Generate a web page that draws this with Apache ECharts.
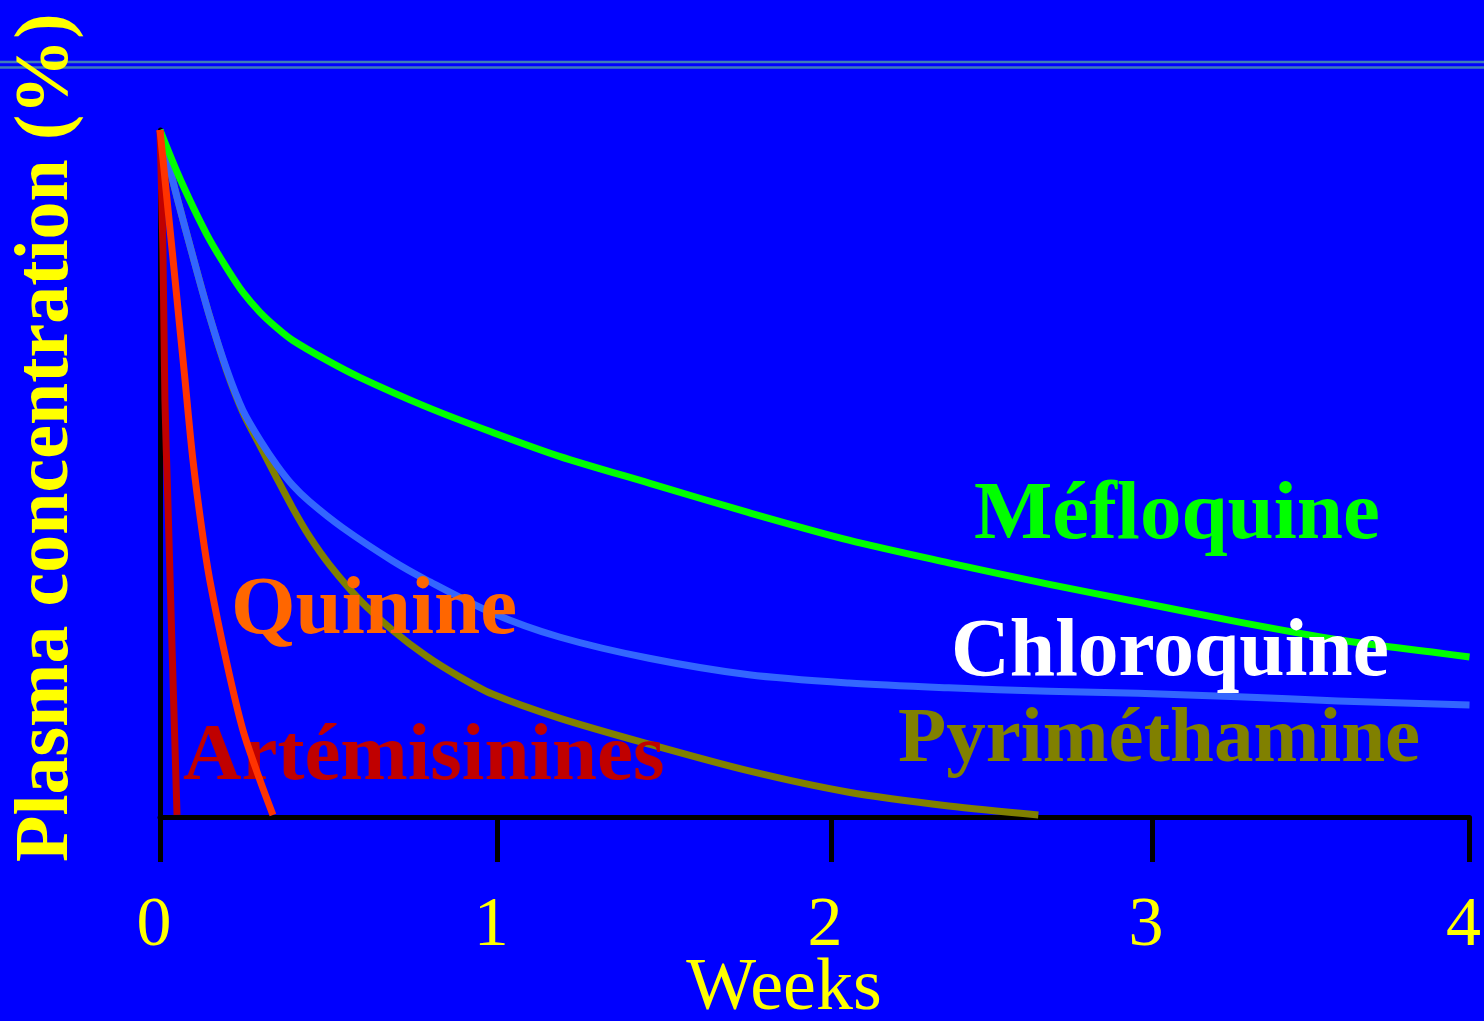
<!DOCTYPE html>
<html>
<head>
<meta charset="utf-8">
<title>Plasma concentration</title>
<script src="https://cdn.jsdelivr.net/npm/echarts@6/dist/echarts.min.js"></script>
<style>
  html, body { margin: 0; padding: 0; background: #0000ff; }
  #chart { width: 1484px; height: 1021px; }
</style>
</head>
<body>
<div id="chart"></div>
<script>
// Week axis: tick positions and their labels
const weekTicks = [0, 1.03, 2.05, 3.03, 4];
const weekLabels = ['0', '1', '2', '3', '4'];

// Plasma concentration (% of peak) against time in weeks
const mefloquine = [
  [0, 100], [0.052, 93.9], [0.101, 88.8], [0.152, 84.0], [0.204, 79.9], [0.253, 76.4],
  [0.305, 73.5], [0.357, 71.2], [0.405, 69.4], [0.509, 66.5], [0.61, 64.0], [0.814, 59.7],
  [1.015, 56.0], [1.22, 52.5], [1.494, 48.6], [1.799, 44.3], [2.104, 40.3], [2.409, 37.0],
  [2.713, 33.9], [2.988, 31.3], [3.293, 28.4], [3.598, 25.8], [3.902, 23.9], [4.0, 23.3]
];
const chloroquine = [
  [0, 100], [0.052, 90.2], [0.101, 81.5], [0.152, 72.8], [0.204, 65.1], [0.253, 59.2],
  [0.305, 54.9], [0.357, 51.2], [0.405, 48.3], [0.457, 45.9], [0.558, 42.1], [0.71, 37.3],
  [0.814, 34.5], [1.015, 29.7], [1.22, 26.2], [1.494, 23.1], [1.799, 20.7], [2.104, 19.5],
  [2.409, 18.8], [2.713, 18.3], [2.988, 18.0], [3.293, 17.5], [3.598, 16.9], [4.0, 16.3]
];
const pyrimethamine = [
  [0, 100], [0.052, 90.2], [0.101, 81.5], [0.152, 72.8], [0.204, 64.9], [0.253, 58.9],
  [0.305, 54.1], [0.357, 49.3], [0.405, 45.0], [0.457, 40.8], [0.518, 36.7], [0.61, 31.6],
  [0.71, 27.2], [0.814, 23.4], [0.915, 20.4], [1.015, 17.9], [1.22, 14.4], [1.494, 10.6],
  [1.799, 6.7], [2.104, 3.6], [2.409, 1.6], [2.683, 0.3]
];
const quinine = [
  [0, 100], [0.025, 88.2], [0.05, 76.3], [0.075, 64.3], [0.10, 52.2], [0.128, 41.8],
  [0.152, 34.5], [0.204, 22.4], [0.253, 12.7], [0.305, 5.4], [0.345, 0.3]
];
const artemisinins = [
  [0, 100], [0.009, 82.5], [0.015, 60.7], [0.024, 46.1], [0.037, 24.3], [0.052, 0.3]
];

const SERIF = '"Liberation Serif", "Times New Roman", serif';

function curve(name, data, color, z) {
  return {
    name: name,
    type: 'line',
    data: data,
    z: z,
    smooth: 0.3,
    showSymbol: false,
    symbol: 'none',
    silent: true,
    lineStyle: { color: color, width: 7, cap: 'butt', join: 'round' }
  };
}

function tag(text, x, y, size, color) {
  return {
    type: 'text',
    x: x,
    y: y,
    z: 10,
    silent: true,
    style: {
      text: text,
      font: 'bold ' + size + 'px ' + SERIF,
      fill: color,
      align: 'left',
      verticalAlign: 'middle',
      textAlign: 'left',
      textVerticalAlign: 'middle'
    }
  };
}

const chart = echarts.init(document.getElementById('chart'), null, { renderer: 'canvas' });

chart.setOption({
  backgroundColor: '#0000ff',
  animation: false,
  grid: { left: 160, right: 12, top: 130, bottom: 204, containLabel: false },
  xAxis: {
    type: 'value',
    min: 0,
    max: 4,
    axisLine: { show: true, lineStyle: { color: '#000000', width: 5 } },
    axisTick: {
      show: true,
      inside: false,
      length: 45,
      customValues: weekTicks,
      lineStyle: { color: '#000000', width: 5 }
    },
    axisLabel: {
      show: true,
      customValues: weekTicks,
      formatter: function (v) {
        const i = weekTicks.indexOf(v);
        return i >= 0 ? weekLabels[i] : String(Math.round(v));
      },
      color: '#ffff00',
      fontFamily: SERIF,
      fontSize: 70,
      margin: 75,
      padding: [0, 12, 0, 0]
    },
    splitLine: { show: false }
  },
  yAxis: {
    type: 'value',
    min: 0,
    max: 100,
    axisLine: { show: true, onZero: false, lineStyle: { color: '#000000', width: 5 } },
    axisTick: { show: false },
    axisLabel: { show: false },
    splitLine: { show: false }
  },
  series: [
    curve('Pyriméthamine', pyrimethamine, '#808000', 2),
    curve('Chloroquine', chloroquine, '#3366ff', 3),
    curve('Méfloquine', mefloquine, '#00ff00', 4),
    curve('Artémisinines', artemisinins, '#c00000', 20),
    curve('Quinine', quinine, '#ff3300', 21)
  ],
  graphic: [
    { type: 'line', silent: true, shape: { x1: 0, y1: 62, x2: 1484, y2: 62 }, style: { stroke: '#3f7cb8', lineWidth: 2.5 } },
    { type: 'line', silent: true, shape: { x1: 0, y1: 67.5, x2: 1484, y2: 67.5 }, style: { stroke: '#3f7cb8', lineWidth: 2.5 } },
    tag('Méfloquine', 974, 517, 83, '#00ff00'),
    tag('Chloroquine', 951, 654, 81.5, '#ffffff'),
    tag('Pyriméthamine', 898, 741, 79, '#808000'),
    tag('Quinine', 231, 612, 83, '#ff6600'),
    tag('Artémisinines', 183, 758, 81, '#c00000'),
    {
      type: 'text',
      x: 784,
      y: 990,
      z: 10,
      silent: true,
      style: {
        text: 'Weeks',
        font: '74px ' + SERIF,
        fill: '#ffff00',
        align: 'center',
        verticalAlign: 'middle',
        textAlign: 'center',
        textVerticalAlign: 'middle'
      }
    },
    {
      type: 'text',
      x: 47,
      y: 862,
      rotation: Math.PI / 2,
      z: 10,
      silent: true,
      style: {
        text: 'Plasma concentration (%)',
        font: 'bold 76px ' + SERIF,
        fill: '#ffff00',
        align: 'left',
        verticalAlign: 'middle',
        textAlign: 'left',
        textVerticalAlign: 'middle'
      }
    }
  ]
});
</script>
</body>
</html>
